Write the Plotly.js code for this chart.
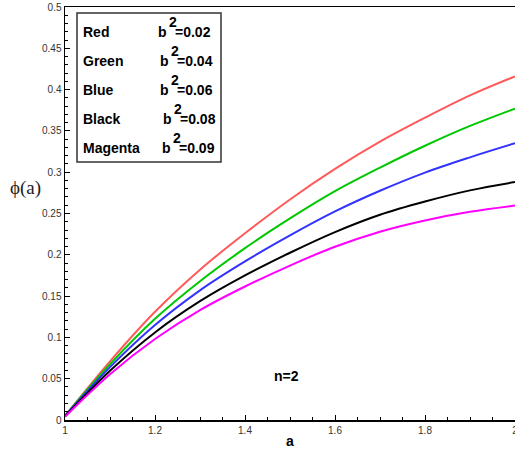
<!DOCTYPE html>
<html>
<head>
<meta charset="utf-8">
<script src="https://cdn.plot.ly/plotly-3.0.1.min.js"></script>
<style>html,body{margin:0;padding:0;background:#fff;}#chart{width:515px;height:452px;}</style>
</head>
<body>
<div id="chart"></div>
<script>
const aValues    = [1.0,   1.1,    1.2,    1.3,    1.4,    1.5,    1.6,    1.7,    1.8,    1.9,   2.0];
const phiRed     = [0.005, 0.071,  0.131,  0.182,  0.226,  0.267,  0.304,  0.337,  0.366,  0.393, 0.416];
const phiGreen   = [0.005, 0.0675, 0.1225, 0.168,  0.208,  0.244,  0.277,  0.3055, 0.332,  0.356, 0.377];
const phiBlue    = [0.005, 0.064,  0.115,  0.157,  0.192,  0.2235, 0.2525, 0.2775, 0.2995, 0.318, 0.335];
const phiBlack   = [0.0045,0.0596, 0.106,  0.1438, 0.175,  0.2025, 0.2275, 0.2485, 0.2645, 0.278, 0.288];
const phiMagenta = [0.004, 0.0554, 0.098,  0.133,  0.1616, 0.187,  0.2098, 0.228,  0.2416, 0.252, 0.2596];
const legendNames = ["Red", "Green", "Blue", "Black", "Magenta"];
const legendB2 = ["0.02", "0.04", "0.06", "0.08", "0.09"];
const xTickVals = [1, 1.2, 1.4, 1.6, 1.8, 2];

const series = [phiRed, phiGreen, phiBlue, phiBlack, phiMagenta];
const colors = ["#ff5a5a", "#00c800", "#3333ff", "#000000", "#ff00ff"];

const traces = series.map((ys, i) => ({
  x: aValues, y: ys, type: "scatter", mode: "lines",
  line: {color: colors[i], width: 2, shape: "spline", smoothing: 1},
  showlegend: false, hoverinfo: "skip"
}));

const font = "Liberation Sans, Arial, sans-serif";
const annotations = [];
const rowY = [32, 61, 90, 119, 148];
const bX = [159, 161, 161, 164, 163];
const px2x = px => (px - 65) / 450;
const py2y = py => (420 - py) / 413;
function addText(txt, px, py, size, color, fam) {
  annotations.push({xref: "paper", yref: "paper", x: px2x(px - 2), y: py2y(py), xanchor: "left", yanchor: "middle",
    text: txt, showarrow: false, borderpad: 0, font: {family: fam || font, size: size, color: color || "#000"}});
}
legendNames.forEach((n, i) => {
  addText("<b>" + n + "</b>", 84, rowY[i], 14);
  addText("<b>b</b>", bX[i], rowY[i], 14);
  addText("<b>2</b>", bX[i] + 11, rowY[i] - 10, 14);
  addText("<b>=" + legendB2[i] + "</b>", bX[i] + 17, rowY[i], 14);
});
addText("<b>n=2</b>", 275, 376, 14);
addText("\u03D5(a)", 11, 188, 19, "#222", "Liberation Serif, Times New Roman, serif");

const layout = {
  width: 515, height: 452,
  margin: {l: 65, r: 0, t: 7, b: 32},
  paper_bgcolor: "#fff", plot_bgcolor: "#fff",
  showlegend: false,
  font: {family: font, size: 10, color: "#333"},
  xaxis: {
    range: [1, 2], tickvals: xTickVals, ticktext: xTickVals.map(String), ticks: "inside", ticklen: 5, tickcolor: "#000", tickwidth: 1,
    minor: {ticks: "inside", dtick: 0.05, tick0: 1, ticklen: 3, tickcolor: "#000"},
    showline: true, linecolor: "#000", linewidth: 1.5, mirror: true,
    showgrid: false, zeroline: false, ticklabeloverflow: "allow",
    tickfont: {family: font, size: 10, color: "#333"},
    title: {text: "<b>a</b>", font: {family: font, size: 14, color: "#000"}, standoff: 1}
  },
  yaxis: {
    range: [0, 0.5], dtick: 0.05, tick0: 0, ticks: "inside", ticklen: 5, tickcolor: "#000", tickwidth: 1,
    minor: {ticks: "inside", dtick: 0.01, ticklen: 3, tickcolor: "#000"},
    showline: true, linecolor: "#000", linewidth: 1.5, mirror: false,
    showgrid: false, zeroline: false,
    tickfont: {family: font, size: 10, color: "#333"}
  },
  shapes: [{type: "rect", xref: "paper", yref: "paper",
    x0: px2x(77), x1: px2x(221), y0: py2y(162), y1: py2y(13),
    line: {color: "#333", width: 1.5}, fillcolor: "rgba(0,0,0,0)"}],
  annotations: annotations
};

Plotly.newPlot("chart", traces, layout, {displayModeBar: false, staticPlot: true});
</script>
</body>
</html>
